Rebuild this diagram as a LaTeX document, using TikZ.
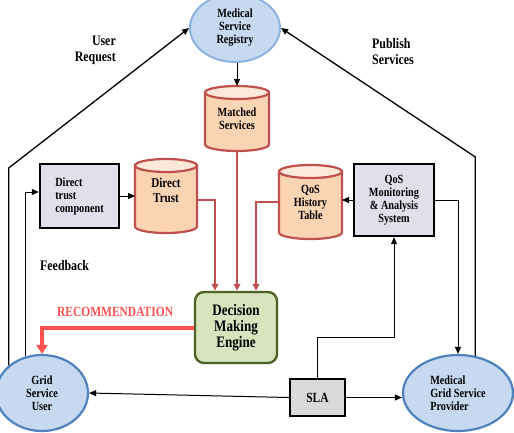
\documentclass[tikz,border=0pt]{standalone}
\usepackage{fontspec}
\setmainfont{Liberation Serif}[FakeStretch=0.82]
\usetikzlibrary{arrows.meta,shapes.geometric,backgrounds}

\definecolor{ovalfill}{HTML}{C6D9F1}
\definecolor{ovaledge}{HTML}{4F81BD}
\definecolor{regedge}{HTML}{8DB3E2}
\definecolor{tankbody}{HTML}{FBD4B4}
\definecolor{tanktop}{HTML}{FDE9D9}
\definecolor{tankline}{HTML}{C0504D}
\definecolor{boxfill}{HTML}{E0DFEC}
\definecolor{slafill}{HTML}{D9D9D9}
\definecolor{dmefill}{HTML}{D7E4BD}
\definecolor{dmeedge}{HTML}{4F6228}
\definecolor{linkred}{HTML}{C0504D}
\definecolor{recred}{HTML}{FF5050}

% database tank drawn around a named rectangular node:
% #1 node, #2 half width, #3 radius of the end ellipses
\newcommand\tank[3]{%
  \filldraw[draw=tankline, line width=2.2pt, fill=tankbody]
    ([yshift=-#3]#1.north west) -- ([yshift=#3]#1.south west)
    arc[start angle=180, end angle=360, x radius=#2, y radius=#3]
    -- ([yshift=-#3]#1.north east) -- cycle;
  \filldraw[draw=tankline, line width=2.2pt, fill=tanktop]
    ([yshift=-#3]#1.north) ellipse[x radius=#2, y radius=#3];
}

\begin{document}
\begin{tikzpicture}[x=1pt, y=-1pt,
  lbl/.style={font=\bfseries\fontsize{12.5}{13}\selectfont, align=center},
  oval/.style={ellipse, fill=ovalfill, draw=ovaledge, line width=2.2pt, inner sep=0pt, lbl},
  tankn/.style={rectangle, inner sep=0pt, outer sep=0pt, lbl},
  box/.style={rectangle, draw=black, line width=2.4pt, fill=boxfill, inner sep=0pt, lbl},
  tag/.style={inner sep=0pt, font=\bfseries\fontsize{14.5}{16}\selectfont},
  arr/.style={-{Triangle[length=7pt,width=6pt]}, line width=1pt},
  redarr/.style={draw=linkred, line width=1.8pt, -{Triangle[length=7pt,width=6.5pt]}},
  recarr/.style={draw=recred, line width=4pt, -{Triangle[length=9pt,width=11pt]}}
]
\useasboundingbox (0,0) rectangle (514,432);

% services and actors
\node[oval, draw=regedge, line width=2pt, minimum width=90pt, minimum height=68pt] (msr) at (235,28) {Medical\\Service\\Registry};
\node[oval, minimum width=92pt, minimum height=76pt] (gsu) at (42,393) {Grid\\Service\\User};
\node[oval, minimum width=110pt, minimum height=76pt, align=left] (mgsp) at (458,393) {Medical\\Grid Service\\Provider};

% data stores
\node[tankn, minimum width=64pt, minimum height=65pt] (ms) at (237,118.5) {Matched\\Services};
\node[tankn, minimum width=62pt, minimum height=74pt, text depth=11pt,
      font=\bfseries\fontsize{13.5}{15}\selectfont] (dt) at (166,196) {Direct\\Trust};
\node[tankn, minimum width=63pt, minimum height=74pt] (qh) at (310.5,202) {QoS\\History\\Table};

% processing blocks
\node[box, minimum width=79pt, minimum height=64pt, align=left] (dtc) at (79.5,196) {Direct\\trust\\component};
\node[box, minimum width=80pt, minimum height=72pt] (qm) at (394,200) {QoS\\Monitoring\\\& Analysis\\System};
\node[box, rounded corners=9pt, fill=dmefill, draw=dmeedge, minimum width=82pt, minimum height=71pt,
      font=\bfseries\fontsize{16}{16}\selectfont] (dme) at (236,327.5) {Decision\\Making\\Engine};
\node[box, fill=slafill, minimum width=55pt, minimum height=37pt,
      font=\bfseries\fontsize{14}{15}\selectfont] (sla) at (317.5,397.5) {SLA};

\begin{scope}[on background layer]
  \tank{ms}{32pt}{6.5pt}
  \tank{dt}{31pt}{6.5pt}
  \tank{qh}{31.5pt}{6.5pt}
\end{scope}

% free labels
\node[tag, anchor=east, align=right] (ureq) at (116,50) {User\\Request};
\node[tag, anchor=west, align=left] (pub) at (372,52) {Publish\\Services};
\node[tag, anchor=base west] (fb) at (40,270) {Feedback};
\node[tag, text=recred, anchor=base west, font=\bfseries\fontsize{14}{16}\selectfont] (rec) at (57,316) {RECOMMENDATION};

% bend points
\coordinate (ur) at (0,168);
\coordinate (pr) at (0,157);
\coordinate (slabend) at (0,337);

% black connectors
\draw[arr, line width=1.3pt] (gsu.north west) -- (gsu.north west |- ur) -- (msr.west);
\draw[arr, line width=1.3pt] (mgsp.65) -- (mgsp.65 |- pr) -- (msr.east);
\draw[arr] (ms.north |- msr.south) -- (ms.north);
\draw[arr] (dtc.east) -- (dt.west);
\draw[arr] (qm.west) -- (qm.west -| qh.east);
\draw[arr] (qm.east) -| (mgsp.north);
\draw[arr, line width=0.8pt] (sla.north) -- (sla.north |- slabend) -| (qm.south);
\draw[arr] (sla.west) -- (gsu.east);
\draw[arr] (sla.east) -- (sla.east -| mgsp.west);
\draw[arr] (gsu.114) |- ([yshift=4pt]dtc.west);

% inputs of the decision engine
\draw[redarr] ([yshift=-4pt]dt.east) -| ([xshift=-21pt]dme.north);
\draw[redarr] (ms.south) -- (ms.south |- dme.north);
\draw[redarr] (qh.west) -| ([xshift=20pt]dme.north);

% recommendation back to the user
\draw[recarr] (dme.west) -| (gsu.north);
\end{tikzpicture}
\end{document}
